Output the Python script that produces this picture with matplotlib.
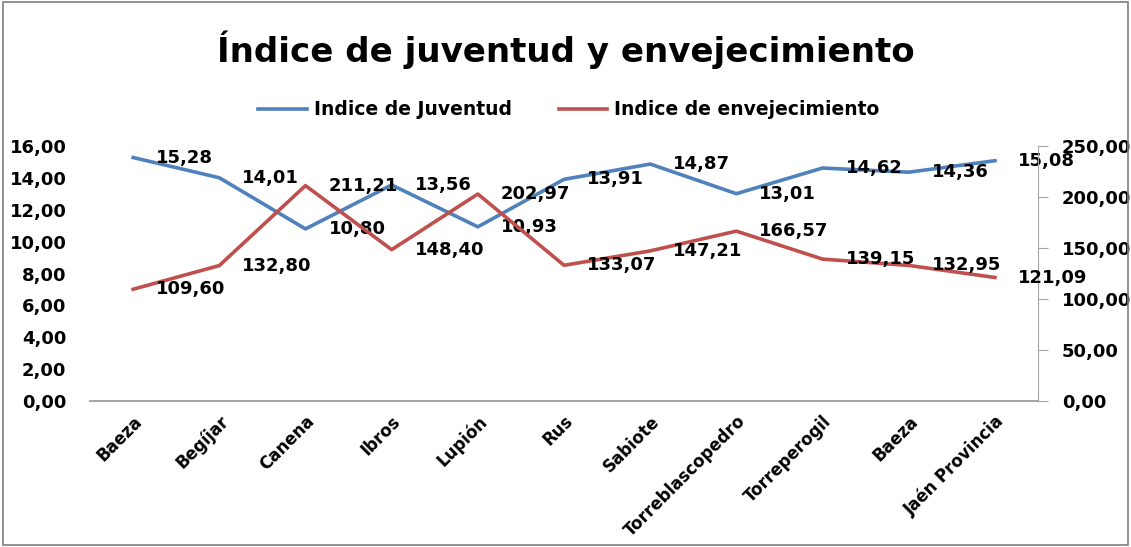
import matplotlib
matplotlib.use("Agg")
import matplotlib.pyplot as plt
from matplotlib.patches import Rectangle

municipios = ["Baeza", "Begíjar", "Canena", "Ibros", "Lupión", "Rus", "Sabiote",
              "Torreblascopedro", "Torreperogil", "Baeza", "Jaén Provincia"]
juventud = [15.28, 14.01, 10.80, 13.56, 10.93, 13.91, 14.87, 13.01, 14.62, 14.36, 15.08]
envejecimiento = [109.60, 132.80, 211.21, 148.40, 202.97, 133.07, 147.21, 166.57, 139.15, 132.95, 121.09]

left_ticks = [0, 2, 4, 6, 8, 10, 12, 14, 16]
right_ticks = [0, 50, 100, 150, 200, 250]

azul = "#4F81BD"
rojo = "#C0504D"
gris = "#A6A6A6"

def fmt(v):
    return f"{v:.2f}".replace(".", ",")

plt.rcParams["font.family"] = ["DejaVu Sans"]
plt.rcParams["font.weight"] = "bold"

fig = plt.figure(figsize=(11.31, 5.47), dpi=100)
ax1 = fig.add_axes([0.0796, 0.2669, 0.8382, 0.4661])
ax2 = ax1.twinx()

x = list(range(len(municipios)))
l1, = ax1.plot(x, juventud, color=azul, lw=2.6, label="Indice de Juventud")
l2, = ax2.plot(x, envejecimiento, color=rojo, lw=2.6, label="Indice de envejecimiento")

ax1.set_xlim(-0.5, len(municipios) - 0.5)
ax1.set_ylim(0, 16)
ax2.set_ylim(0, 250)

ax1.set_yticks(left_ticks)
ax1.set_yticklabels([fmt(v) for v in left_ticks], fontsize=13, fontweight="bold")
ax2.set_yticks(right_ticks)
ax2.set_yticklabels([fmt(v) for v in right_ticks], fontsize=13, fontweight="bold")

ax1.set_xticks(x)
ax1.set_xticklabels(municipios, rotation=45, ha="right", rotation_mode="anchor",
                    fontsize=12, fontweight="bold")

ax1.tick_params(axis="y", length=0, pad=17)
ax1.tick_params(axis="x", length=0, pad=8)
ax2.tick_params(axis="y", length=7, direction="out", color=gris, pad=10)

for ax in (ax1, ax2):
    ax.spines["top"].set_visible(False)
    ax.spines["left"].set_visible(False)
ax1.spines["right"].set_visible(False)
ax2.spines["right"].set_color(gris)
ax2.spines["bottom"].set_visible(False)
ax1.spines["bottom"].set_color(gris)
ax1.spines["bottom"].set_linewidth(1.5)

for xi, v in zip(x, juventud):
    ax1.annotate(fmt(v), (xi, v), xytext=(23, 0), textcoords="offset pixels",
                 ha="left", va="center", fontsize=13, fontweight="bold")
for xi, v in zip(x, envejecimiento):
    ax2.annotate(fmt(v), (xi, v), xytext=(23, 0), textcoords="offset pixels",
                 ha="left", va="center", fontsize=13, fontweight="bold")

fig.text(0.5, 0.909, "Índice de juventud y envejecimiento", ha="center", va="center",
         fontsize=24.5, fontweight="bold")
fig.legend(handles=[l1, l2], loc="center", bbox_to_anchor=(0.503, 0.799), ncol=2,
           frameon=False, prop={"size": 13.5, "weight": "bold"}, handlelength=2.6,
           handletextpad=0.37, columnspacing=2.5)

fig.patches.append(Rectangle((0.003, 0.003), 0.994, 0.994, transform=fig.transFigure,
                             fill=False, edgecolor="#7F7F7F", lw=1.2))

fig.savefig("out.png", dpi=100)
